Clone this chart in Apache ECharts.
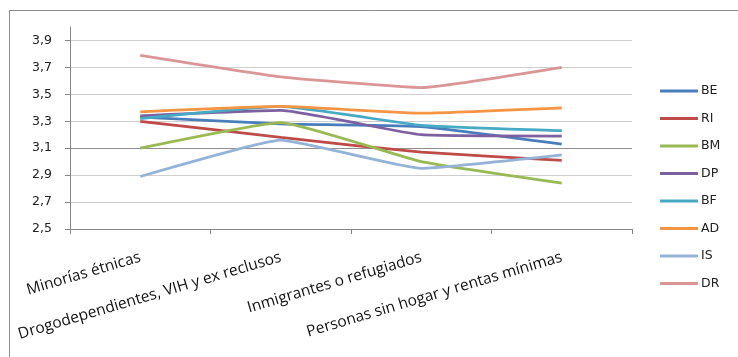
<!DOCTYPE html>
<html>
<head>
<meta charset="utf-8">
<script src="https://cdn.jsdelivr.net/npm/echarts@6/dist/echarts.min.js"></script>
<style>
  html, body { margin: 0; padding: 0; background: #ffffff; }
  #chart { width: 738px; height: 357px; }
</style>
</head>
<body>
<div id="chart"></div>
<script>
// Categories on the horizontal axis
const categories = [
  'Minorías étnicas',
  'Drogodependientes, VIH y ex reclusos',
  'Inmigrantes o refugiados',
  'Personas sin hogar y rentas mínimas'
];

// Mean scores per group
const BE = [3.33, 3.28, 3.26, 3.13];
const RI = [3.30, 3.18, 3.07, 3.01];
const BM = [3.10, 3.29, 3.00, 2.84];
const DP = [3.34, 3.38, 3.20, 3.19];
const BF = [3.32, 3.41, 3.27, 3.23];
const AD = [3.37, 3.41, 3.36, 3.40];
const IS = [2.89, 3.16, 2.95, 3.05];
const DR = [3.79, 3.63, 3.55, 3.70];

const seriesNames = ['BE', 'RI', 'BM', 'DP', 'BF', 'AD', 'IS', 'DR'];
const seriesData = [BE, RI, BM, DP, BF, AD, IS, DR];
const seriesColors = ['#4a7ebb', '#be4b48', '#98b954', '#7d60a0', '#46aac5', '#f59443', '#95b3d7', '#d99694'];

// Value axis ticks
const yTicks = [2.5, 2.7, 2.9, 3.1, 3.3, 3.5, 3.7, 3.9];

const chart = echarts.init(document.getElementById('chart'), null, { renderer: 'canvas' });

const fmt = v => Number(v).toFixed(1).replace('.', ',');

chart.setOption({
  animation: false,
  backgroundColor: '#ffffff',
  color: seriesColors,
  graphic: [{
    type: 'rect',
    silent: true,
    shape: { x: 9.5, y: 10.5, width: 740, height: 360 },
    style: { fill: 'none', stroke: '#8c8c8c', lineWidth: 1 }
  }],
  grid: { left: 70, right: 106, top: 27, bottom: 128, containLabel: false },
  legend: {
    orient: 'vertical',
    left: 660,
    top: 84,
    padding: 0,
    icon: 'rect',
    itemWidth: 38,
    itemHeight: 3,
    itemGap: 13.5,
    textStyle: { fontFamily: 'DejaVu Sans', fontSize: 12.5, color: '#222', lineHeight: 14, padding: [0, 0, 0, -2] },
    data: seriesNames
  },
  xAxis: {
    type: 'category',
    data: categories,
    boundaryGap: true,
    axisLine: { lineStyle: { color: '#868686', width: 1 } },
    axisTick: { show: true, length: 5, lineStyle: { color: '#868686' } },
    axisLabel: {
      interval: 0,
      rotate: 16.5,
      margin: 28,
      fontFamily: 'Open Sans',
      fontSize: 15.5,
      color: '#111'
    },
    splitLine: { show: false }
  },
  yAxis: {
    type: 'value',
    min: 2.5,
    max: 4.0,
    interval: 0.2,
    axisLine: { show: true, lineStyle: { color: '#868686', width: 1 } },
    axisTick: { show: true, length: 5, lineStyle: { color: '#868686' }, customValues: yTicks },
    axisLabel: {
      customValues: yTicks,
      margin: 18,
      fontFamily: 'DejaVu Sans',
      fontSize: 12.5,
      color: '#222',
      formatter: v => (v > 3.95 ? '' : fmt(v))
    },
    splitLine: {
      show: true,
      lineStyle: {
        color: ['#868686', '#cfcfcf', '#cfcfcf', '#8f8f8f', '#cfcfcf', '#cfcfcf', '#cfcfcf', '#cfcfcf', 'rgba(0,0,0,0)'],
        width: 1
      }
    }
  },
  series: seriesNames.map((name, i) => ({
    name: name,
    type: 'line',
    data: seriesData[i],
    smooth: 0.12,
    symbol: 'none',
    lineStyle: { width: 2.75, color: seriesColors[i] },
    itemStyle: { color: seriesColors[i] }
  }))
});
</script>
</body>
</html>
